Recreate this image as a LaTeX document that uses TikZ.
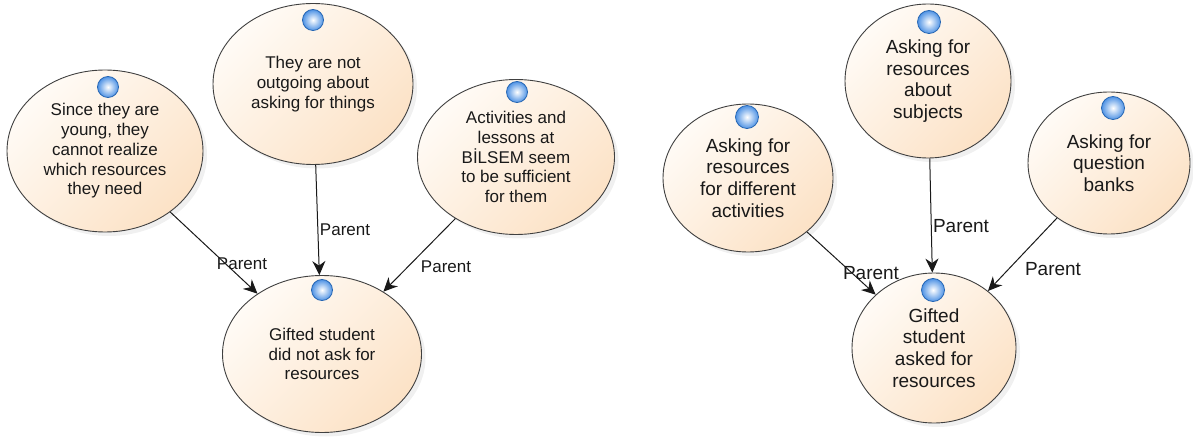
\documentclass[tikz,border=0pt]{standalone}
\usepackage{fontspec}
\setmainfont{Liberation Sans}
\usetikzlibrary{shapes.geometric,arrows.meta,shadows}
\definecolor{peachlo}{HTML}{FFFBF6}
\definecolor{peachhi}{HTML}{FCE2C6}
\definecolor{bulbblue}{HTML}{2F7FE0}
\tikzset{
  bubble/.style={ellipse, draw=black!75, line width=0.9pt, top color=peachlo,
    bottom color=peachhi, shading angle=45, align=center, inner sep=0pt,
    text=black!90, drop shadow={opacity=0.12, shadow xshift=4pt, shadow yshift=-4pt}},
  smalltxt/.style={font=\fontsize{17}{19.7}\selectfont},
  bigtxt/.style={font=\fontsize{19}{21.7}\selectfont},
  bulb/.style={circle, inner sep=0pt, draw=bulbblue!80!black, line width=0.8pt,
    inner color=white, outer color=bulbblue!85},
  link/.style={-{Stealth[length=14pt,width=13pt,inset=4.5pt]}, line width=1pt, draw=black!90},
  lbl/.style={inner sep=0pt, text=black!90}
}
\begin{document}
\begin{tikzpicture}[x=1pt,y=-1pt]
				\useasboundingbox (0,0) rectangle (1193,438);

				%%left diagram
				\node[bubble, smalltxt, minimum width=196pt, minimum height=162pt] (e1) at (105,151)
					{Since they are\\young, they\\cannot realize\\which resources\\they need};
				\node[bubble, smalltxt, minimum width=200pt, minimum height=161pt] (e2) at (313,84)
					{They are not\\outgoing about\\asking for things};
				\node[bubble, smalltxt, minimum width=197pt, minimum height=155pt] (e3) at (516,157)
					{Activities and\\lessons at\\BİLSEM seem\\to be sufficient\\for them};
				\node[bubble, smalltxt, minimum width=199pt, minimum height=157pt] (e4) at (322,354)
					{Gifted student\\did not ask for\\resources};

				\node[bulb, minimum size=21pt] (d1) at (108,87) {};
				\node[bulb, minimum size=21pt] (d2) at (313,20) {};
				\node[bulb, minimum size=21pt] (d3) at (517,92) {};
				\node[bulb, minimum size=21pt] (d4) at (322,290) {};

				\draw[link] (e1) to (e4);
				\draw[link] (e2) to (e4);
				\draw[link] (e3) to (e4);
					\node[lbl, smalltxt] (p1) at (242,264) {Parent};
					\node[lbl, smalltxt] (p2) at (345,230) {Parent};
					\node[lbl, smalltxt] (p3) at (446,267) {Parent};

				%%right diagram
				\node[bubble, bigtxt, minimum width=170pt, minimum height=148pt] (r1) at (748,178)
					{Asking for\\resources\\for different\\activities};
				\node[bubble, bigtxt, minimum width=166pt, minimum height=154pt] (r2) at (928,81)
					{Asking for\\resources\\about\\subjects};
				\node[bubble, bigtxt, minimum width=162pt, minimum height=142pt] (r3) at (1109,163)
					{Asking for\\question\\banks};
				\node[bubble, bigtxt, minimum width=164pt, minimum height=150pt] (r4) at (934,348)
					{Gifted\\student\\asked for\\resources};

				\node[bulb, minimum size=23pt] (b1) at (747,117) {};
				\node[bulb, minimum size=23pt] (b2) at (929,22) {};
				\node[bulb, minimum size=23pt] (b3) at (1113,108) {};
				\node[bulb, minimum size=23pt] (b4) at (933,290) {};

				\draw[link] (r1) to (r4);
				\draw[link] (r2) to (r4);
				\draw[link] (r3) to (r4);
					\node[lbl, bigtxt] (q1) at (871,273) {Parent};
					\node[lbl, bigtxt] (q2) at (961,226) {Parent};
					\node[lbl, bigtxt] (q3) at (1053,269) {Parent};
\end{tikzpicture}
\end{document}
